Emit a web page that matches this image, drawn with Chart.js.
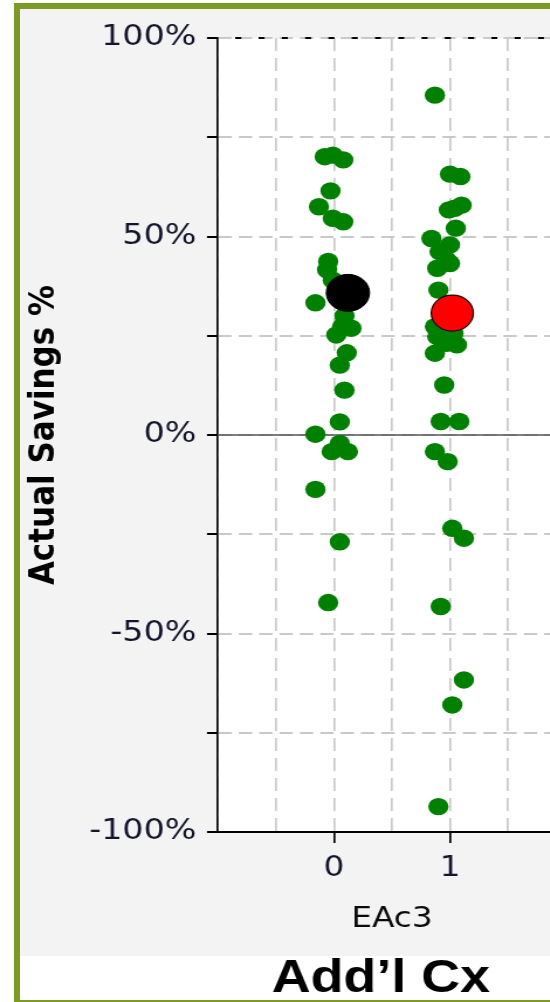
<!DOCTYPE html>
<html>
<head>
<meta charset="utf-8">
<script src="https://cdn.jsdelivr.net/npm/chart.js@4/dist/chart.umd.min.js"></script>
<style>
  html, body { margin: 0; padding: 0; background: #ffffff; width: 550px; height: 1002px; overflow: hidden; }
  #frame { position: absolute; left: 0; top: 0; width: 550px; height: 1002px; overflow: hidden; }
  .edge { position: absolute; background: #7b9b25; }
  #panel { position: absolute; left: 20px; top: 9px; width: 530px; height: 947px; background: #f3f3f3; }
  #c { position: absolute; left: 0; top: 0; transform: scaleX(1.17); transform-origin: 0 0; }
</style>
</head>
<body>
<div id="frame">
  <div id="panel"></div>
  <div class="edge" style="left:14px;top:3px;width:6px;height:999px;"></div>
  <div class="edge" style="left:14px;top:3px;width:536px;height:6px;"></div>
  <div class="edge" style="left:14px;top:1000px;width:536px;height:2px;"></div>
  <canvas id="c" width="634" height="1002"></canvas>
</div>
<script>
// Individual sites, jittered around their EAc3 group (0 = no, 1 = yes)
const group0X = [-0.08, -0.01, 0.08, -0.03, -0.13, -0.01, 0.08, -0.05, -0.06, -0.01,
                 -0.16, 0.09, 0.07, 0.15, 0.02, 0.11, 0.05, 0.09, 0.05, -0.16,
                 -0.02, 0.05, 0.12, -0.16, 0.05, -0.05];
const group0Savings = [70.1, 70.5, 69.3, 61.5, 57.5, 54.6, 53.7, 43.7, 41.6, 39.0,
                       33.3, 30.0, 27.3, 26.9, 25.2, 20.7, 17.6, 11.3, 3.3, 0.2,
                       -4.2, -2.1, -4.2, -13.7, -26.9, -42.2];

const group1X = [0.87, 1.00, 1.09, 1.10, 0.99, 1.04, 1.05, 0.84, 1.00, 0.91,
                 0.97, 0.89, 1.00, 0.90, 0.87, 0.89, 1.06, 0.87, 0.97, 1.03,
                 0.95, 0.92, 1.08, 0.87, 0.98, 1.02, 1.12, 0.92, 1.12, 1.02, 0.90];
const group1Savings = [85.6, 65.7, 65.1, 57.9, 56.7, 57.1, 52.1, 49.5, 47.9, 46.2,
                       44.1, 42.0, 43.2, 36.5, 27.3, 24.8, 22.7, 20.6, 23.1, 25.6,
                       12.6, 3.4, 3.4, -4.2, -6.7, -23.5, -26.0, -43.2, -61.7, -68.0, -93.6];

// Group averages
const meanNoX = [0.12];
const meanNoSavings = [35.8];
const meanYesX = [1.02];
const meanYesSavings = [30.7];

// Axes
const xRange = [-1, 2];
const xLabelled = [0, 1, 2];
const yRange = [-100, 100];
const yLabelStep = 50;
const referenceLines = [0];

const chartTitle = 'Add\u2019l Cx';
const xTitle = 'EAc3';
const yTitle = 'Actual Savings %';

function pairs(xs, ys) { return xs.map((x, i) => ({ x: x, y: ys[i] })); }

const plotDecor = {
  id: 'plotDecor',
  beforeDraw(chart) {
    const a = chart.chartArea, ctx = chart.ctx;
    ctx.save();
    ctx.fillStyle = '#ffffff';
    ctx.fillRect(a.left, a.top, a.right - a.left, a.bottom - a.top);
    ctx.restore();
  },
  beforeDatasetsDraw(chart) {
    const a = chart.chartArea, ctx = chart.ctx, y = chart.scales.y;
    ctx.save();
    // dotted top edge of the plot
    ctx.strokeStyle = '#000000';
    ctx.lineWidth = 2;
    ctx.setLineDash([5.1, 14.8]);
    ctx.lineDashOffset = 5.1;
    ctx.beginPath();
    ctx.moveTo(a.left, a.top);
    ctx.lineTo(a.right, a.top);
    ctx.stroke();
    // solid reference line(s)
    ctx.setLineDash([]);
    ctx.strokeStyle = '#555555';
    ctx.lineWidth = 1.6;
    referenceLines.forEach(v => {
      const py = y.getPixelForValue(v);
      ctx.beginPath();
      ctx.moveTo(a.left, py);
      ctx.lineTo(a.right, py);
      ctx.stroke();
    });
    ctx.restore();
  }
};

const isLabelledX = v => xLabelled.some(t => Math.abs(t - v) < 1e-9);

new Chart(document.getElementById('c'), {
  type: 'scatter',
  data: {
    datasets: [
      {
        label: 'EAc3 = 0 average',
        data: pairs(meanNoX, meanNoSavings),
        backgroundColor: '#000000',
        borderColor: '#000000',
        borderWidth: 1,
        pointRadius: 18.5,
        order: 0
      },
      {
        label: 'EAc3 = 1 average',
        data: pairs(meanYesX, meanYesSavings),
        backgroundColor: '#ff0000',
        borderColor: '#1a0000',
        borderWidth: 1.2,
        pointRadius: 18,
        order: 0
      },
      {
        label: 'Sites',
        data: pairs(group0X, group0Savings).concat(pairs(group1X, group1Savings)),
        backgroundColor: '#008000',
        borderWidth: 0,
        pointRadius: 8.7,
        order: 1
      }
    ]
  },
  options: {
    responsive: false,
    animation: false,
    devicePixelRatio: 1,
    layout: { padding: { left: 17, top: 38, right: 0, bottom: 0 } },
    plugins: {
      legend: { display: false },
      tooltip: { enabled: false },
      title: {
        display: true,
        position: 'bottom',
        text: chartTitle,
        color: '#000000',
        font: { family: 'Liberation Sans', size: 46, weight: 'bold', lineHeight: 1 },
        padding: { top: 0, bottom: 0 }
      }
    },
    scales: {
      x: {
        type: 'linear',
        min: xRange[0],
        max: xRange[1],
        grid: {
          color: '#c9c9c9',
          lineWidth: 1.7,
          tickLength: 11,
          tickWidth: 1.7,
          tickColor: ctx => (ctx.tick && isLabelledX(ctx.tick.value) ? '#000000' : 'rgba(0,0,0,0)')
        },
        border: { display: true, color: '#000000', width: 2, dash: [13, 7] },
        ticks: {
          stepSize: 0.5,
          autoSkip: false,
          maxRotation: 0,
          padding: 9,
          color: '#14142c',
          font: { family: 'DejaVu Sans', size: 28, lineHeight: 1.2 },
          callback: v => (isLabelledX(v) ? String(v) : '')
        },
        title: {
          display: true,
          text: xTitle,
          color: '#0a0a0a',
          font: { family: 'DejaVu Sans', size: 28, lineHeight: 1.2 },
          padding: { top: 0, bottom: 19 }
        },
        afterFit(scale) { scale.height = 124; }
      },
      y: {
        type: 'linear',
        position: 'left',
        min: yRange[0],
        max: yRange[1],
        grid: {
          color: '#c9c9c9',
          lineWidth: 2,
          tickLength: 9.4,
          tickWidth: 2,
          tickColor: '#000000'
        },
        border: { display: true, color: '#000000', width: 1.7, dash: [11.4, 6] },
        ticks: {
          stepSize: 25,
          autoSkip: false,
          padding: 9,
          color: '#14142c',
          font: { family: 'DejaVu Sans', size: 28.5, lineHeight: 1.2 },
          callback: v => (v % yLabelStep === 0 ? v + '%' : '')
        },
        title: {
          display: true,
          text: yTitle,
          color: '#000000',
          font: { family: 'DejaVu Sans', size: 31, weight: 'bold', lineHeight: 1.2 },
          padding: { top: 2, bottom: 0 }
        },
        afterFit(scale) { scale.width = 169.3; }
      },
      yRight: {
        type: 'linear',
        position: 'right',
        display: true,
        grid: { display: false, drawOnChartArea: false, drawTicks: false },
        border: { display: false },
        ticks: { display: false },
        afterFit(scale) { scale.width = 150.25; }
      }
    }
  },
  plugins: [plotDecor]
});
</script>
</body>
</html>
